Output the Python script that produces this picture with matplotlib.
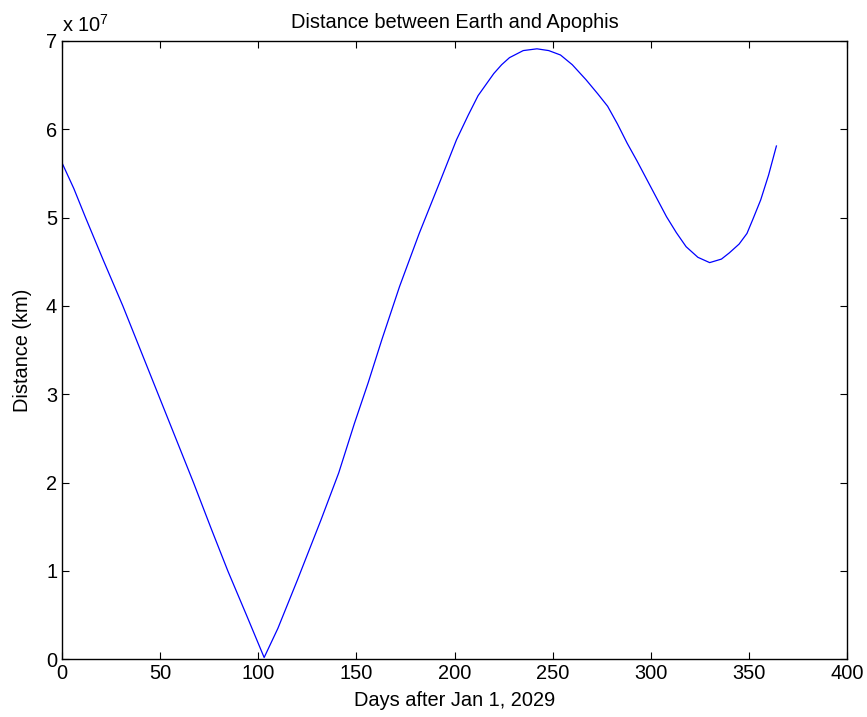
import numpy as np
import matplotlib
matplotlib.use("Agg")
import matplotlib.pyplot as plt
from matplotlib.ticker import FuncFormatter

plt.rcParams['font.family'] = ['Liberation Sans', 'DejaVu Sans']
plt.rcParams['mathtext.fontset'] = 'custom'
plt.rcParams['mathtext.rm'] = 'Liberation Sans'
plt.rcParams['mathtext.it'] = 'Liberation Sans'

# days after Jan 1, 2029 and distance in units of 1e7 km
days = [0, 6, 12, 21, 31, 40, 49, 58, 67, 76, 84.5, 94, 103, 110, 120, 126,
        132, 141, 149, 156, 163, 172, 182, 193, 201, 207, 212, 220, 224, 228,
        235, 242, 248, 254, 260, 267, 273, 278, 283, 288, 293, 298, 303, 308,
        313, 318, 324, 330, 336, 340, 345, 349, 352, 356, 360, 364]
dist_1e7 = [5.62, 5.33, 5.00, 4.52, 4.00, 3.50, 3.00, 2.50, 2.00, 1.48, 1.00,
            0.50, 0.02, 0.35, 0.90, 1.24, 1.58, 2.11, 2.67, 3.13, 3.62, 4.22,
            4.82, 5.43, 5.88, 6.16, 6.38, 6.63, 6.73, 6.81, 6.89, 6.91, 6.89,
            6.84, 6.73, 6.56, 6.40, 6.26, 6.06, 5.84, 5.64, 5.43, 5.22, 5.01,
            4.83, 4.67, 4.55, 4.49, 4.53, 4.60, 4.70, 4.82, 4.98, 5.20, 5.48,
            5.81]

x_ticks = [0, 50, 100, 150, 200, 250, 300, 350, 400]
y_ticks = [0, 1, 2, 3, 4, 5, 6, 7]

dist_km = np.array(dist_1e7) * 1e7

fig = plt.figure(figsize=(8.67, 7.17), dpi=100)
ax = fig.add_axes([0.0715, 0.0805, 0.9055, 0.8625])

ax.plot(days, dist_km, color='blue', linewidth=0.9)

ax.set_xlim(0, 400)
ax.set_ylim(0, 7e7)
ax.set_xticks(x_ticks)
ax.set_yticks([v * 1e7 for v in y_ticks])
ax.yaxis.set_major_formatter(FuncFormatter(lambda v, p: f"{v / 1e7:g}"))

ax.tick_params(direction='in', length=5, width=0.8, top=True, right=True,
               labelsize=14.4, colors='black')
for s in ax.spines.values():
    s.set_linewidth(1.0)

ax.set_title("Distance between Earth and Apophis", fontsize=14.4, pad=9)
ax.set_xlabel("Days after Jan 1, 2029", fontsize=14.4, labelpad=6)
ax.set_ylabel("Distance (km)", fontsize=14.4, labelpad=10)
ax.text(0.0, 1.008, r"x 10$^{7}$", transform=ax.transAxes, fontsize=14.4,
        ha='left', va='bottom')

fig.savefig("out.png", dpi=100)
